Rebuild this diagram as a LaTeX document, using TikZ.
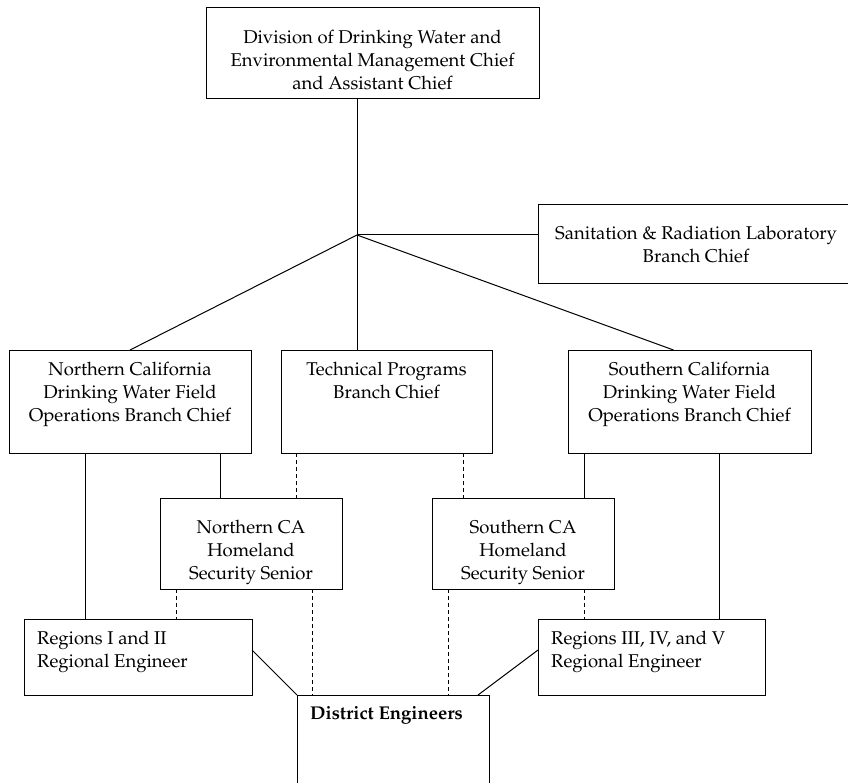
\documentclass[tikz,border=0pt]{standalone}
\usepackage[T1]{fontenc}
\usepackage{mathpazo}
\usetikzlibrary{positioning, calc}

\begin{document}
\begin{tikzpicture}[
    x=1pt, y=-1pt,
    font=\fontsize{18.5}{23}\selectfont,
    node distance=30pt,
    box/.style={rectangle, draw=black, line width=1pt, inner sep=0pt, outer sep=0pt},
    lbl/.style={anchor=north, align=center, inner sep=0pt, yshift=-12pt},
    lblw/.style={anchor=north west, align=left, inner sep=0pt, xshift=13pt, yshift=-12pt},
    link/.style={draw=black, line width=1pt},
    dashlink/.style={link, dash pattern=on 4pt off 3pt},
]
\path[use as bounding box, fill=white] (0,0) rectangle (848,783);

% Division level
\node[box, minimum width=333pt, minimum height=91pt, label={[lbl, yshift=-10pt]north:{Division of Drinking Water and\\Environmental Management Chief\\and Assistant Chief}}] (div) at (372.5,53.5) {};
\node[box, minimum width=316pt, minimum height=79pt, align=center] (san) at (696,244.5) {Sanitation \& Radiation Laboratory\\Branch Chief};
\coordinate (hub) at (357,235);

% Branch chiefs
\node[box, minimum width=242pt, minimum height=103pt, label={[lbl]north:{Northern California\\Drinking Water Field\\Operations Branch Chief}}] (ncal) at (130,401.5) {};
\node[box, minimum width=211pt, minimum height=103pt, right=30pt of ncal, label={[lbl]north:{Technical Programs\\Branch Chief}}] (tech) {};
\node[box, minimum width=243pt, minimum height=103pt, right=76pt of tech, label={[lbl]north:{Southern California\\Drinking Water Field\\Operations Branch Chief}}] (scal) {};

% Homeland security
\node[box, minimum width=182pt, minimum height=91pt, label={[lbl, yshift=-10pt]north:{Northern CA\\Homeland\\Security Senior}}] (nchs) at (251,543.5) {};
\node[box, minimum width=182pt, minimum height=91pt, right=90pt of nchs, label={[lbl, yshift=-10pt]north:{Southern CA\\Homeland\\Security Senior}}] (schs) {};

% Regions and districts
\node[box, minimum width=228pt, minimum height=76pt, label={[lblw]north west:{Regions I and II\\Regional Engineer}}] (regI) at (138,657) {};
\node[box, minimum width=227pt, minimum height=76pt, right=286pt of regI, label={[lblw]north west:{Regions III, IV, and V\\Regional Engineer}}] (regIII) {};
\node[box, minimum width=192pt, minimum height=120pt, label={[lblw, yshift=1pt]north west:{\bfseries District Engineers}}] (dist) at (393,755) {};

% Top links
\draw[link] (div.south -| hub) -- (hub);
\draw[link] (hub) -- (hub -| san.west);
\draw[link] (hub) -- (ncal.north);
\draw[link] (hub) -- (hub |- tech.north);
\draw[link] (hub) -- ([xshift=-16pt]scal.north);

% Branch links
\draw[link] ([xshift=-45pt]ncal.south) -- ([xshift=-53pt]regI.north);
\draw[link] ([xshift=90pt]ncal.south) -- ([xshift=-31pt]nchs.north);
\draw[dashlink] ([xshift=-90.5pt]tech.south) -- ([xshift=45pt]nchs.north);
\draw[dashlink] ([xshift=76.5pt]tech.south) -- ([xshift=-60pt]schs.north);
\draw[link] ([xshift=-105.5pt]scal.south) -- ([xshift=61pt]schs.north);
\draw[link] ([xshift=29.5pt]scal.south) -- ([xshift=67.5pt]regIII.north);

% Homeland security links
\draw[dashlink] ([xshift=-75pt]nchs.south) -- ([xshift=38pt]regI.north);
\draw[dashlink] ([xshift=61pt]nchs.south) -- ([xshift=-81pt]dist.north);
\draw[dashlink] ([xshift=-75pt]schs.south) -- ([xshift=55pt]dist.north);
\draw[dashlink] ([xshift=61pt]schs.south) -- ([xshift=-67.5pt]regIII.north);

% Regions to districts
\draw[link] ([yshift=7pt]regI.east) -- (dist.north west);
\draw[link] ([yshift=7pt]regIII.west) -- ([xshift=-11pt]dist.north east);

\end{tikzpicture}
\end{document}
